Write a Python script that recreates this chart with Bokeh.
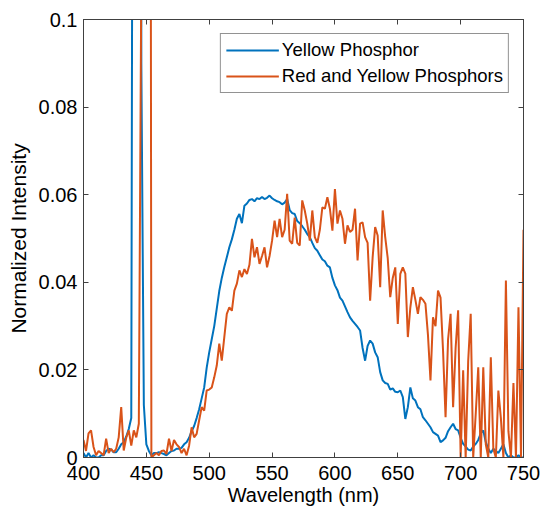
from bokeh.plotting import figure
from bokeh.models import (Range1d, FixedTicker, CustomJSTickFormatter, LinearAxis,
                          Legend, LegendItem)
from bokeh.embed import file_html
from bokeh.resources import INLINE

# wavelength grid (nm), 2 nm steps 400..750
wavelength = list(range(400, 751, 2))

yellow_phosphor = [
    0.001, 0.0, 0.001, 0.0, 0.0005, 0.0, 0.0, 0.0005, 0.0005, 0.0015,          # 400-418
    0.002, 0.0018, 0.0012, 0.0012, 0.002, 0.003, 0.0035, 0.0048, 0.0065, 0.009,  # 420-438
    0.3, 0.8, 1.0, 0.09, 0.012, 0.003, 0.0015, 0.0005, 0.001, 0.001,           # 440-458
    0.0012, 0.001, 0.0008, 0.0005, 0.001, 0.0015, 0.0016, 0.002, 0.002, 0.0022,  # 460-478
    0.003, 0.0035, 0.0045, 0.006, 0.0072, 0.009, 0.011, 0.0135, 0.016, 0.0205,  # 480-498
    0.024, 0.027, 0.030, 0.034, 0.038, 0.041, 0.0435, 0.0457, 0.048, 0.0498,    # 500-518
    0.052, 0.0545, 0.0556, 0.0535, 0.0575, 0.058, 0.0588, 0.059, 0.0585, 0.0592,  # 520-538
    0.059, 0.0595, 0.059, 0.0593, 0.0598, 0.0592, 0.0588, 0.0585, 0.0583, 0.0578,  # 540-558
    0.0582, 0.059, 0.0565, 0.0558, 0.0556, 0.054, 0.0535, 0.0528, 0.052, 0.051,  # 560-578
    0.0503, 0.049, 0.0478, 0.0472, 0.0462, 0.0452, 0.0448, 0.0438, 0.0434, 0.041,  # 580-598
    0.0393, 0.0382, 0.0365, 0.0358, 0.0345, 0.0332, 0.032, 0.0312, 0.0305, 0.0298,  # 600-618
    0.029, 0.025, 0.0221, 0.0255, 0.0267, 0.026, 0.024, 0.0229, 0.0195, 0.0176,  # 620-638
    0.017, 0.0168, 0.0155, 0.0158, 0.015, 0.0149, 0.0153, 0.0138, 0.0088, 0.0115,  # 640-658
    0.016, 0.0135, 0.013, 0.0115, 0.011, 0.0092, 0.0085, 0.0077, 0.0069, 0.0058,  # 660-678
    0.0054, 0.005, 0.0035, 0.0039, 0.0045, 0.006, 0.0069, 0.0077, 0.0065, 0.0062,  # 680-698
    0.0045, 0.0031, 0.0025, 0.0018, 0.0016, 0.0025, 0.0031, 0.004, 0.0055, 0.0062,  # 700-718
    0.0035, 0.002, 0.001, 0.002, 0.0015, 0.001, 0.002, 0.003, 0.001, 0.0,       # 720-738
    0.0005, 0.0, 0.0, 0.0005, 0.0, 0.0,                                         # 740-750
]

red_yellow_phosphors = [
    0.004, 0.0015, 0.0055, 0.0062, 0.0024, 0.0005, 0.0015, 0.001, 0.0005, 0.0043,  # 400-418
    0.001, 0.002, 0.0012, 0.002, 0.0046, 0.0115, 0.0016, 0.0045, 0.0062, 0.0027,  # 420-438
    0.0062, 0.0046, 0.0077, 0.11, 1.0, 1.0, 0.5, 0.0, 0.0005, 0.001,             # 440-458
    0.0005, 0.0015, 0.0016, 0.0008, 0.0043, 0.0015, 0.004, 0.003, 0.0024, 0.001,  # 460-478
    0.002, 0.0005, 0.0027, 0.0069, 0.0046, 0.0054, 0.0085, 0.0115, 0.0107, 0.0153,  # 480-498
    0.0155, 0.016, 0.0183, 0.021, 0.026, 0.0221, 0.0275, 0.0328, 0.0343, 0.0335,  # 500-518
    0.0381, 0.0397, 0.0427, 0.0412, 0.043, 0.0419, 0.044, 0.0499, 0.0457, 0.048,  # 520-538
    0.0442, 0.046, 0.048, 0.0434, 0.046, 0.0495, 0.0541, 0.0503, 0.0545, 0.0503,  # 540-558
    0.052, 0.0602, 0.0495, 0.0488, 0.0548, 0.049, 0.0484, 0.0587, 0.0564, 0.0534,  # 560-578
    0.0495, 0.0564, 0.0503, 0.049, 0.052, 0.0571, 0.0568, 0.0594, 0.0568, 0.0518,  # 580-598
    0.0613, 0.0534, 0.0564, 0.0545, 0.0488, 0.053, 0.0515, 0.052, 0.0568, 0.045,  # 600-618
    0.0534, 0.0537, 0.0503, 0.049, 0.0358, 0.0457, 0.0526, 0.0507, 0.0389, 0.0564,  # 620-638
    0.0503, 0.0455, 0.0366, 0.041, 0.0434, 0.0305, 0.0419, 0.0434, 0.042, 0.0275,  # 640-658
    0.0343, 0.0389, 0.036, 0.0328, 0.0366, 0.036, 0.0351, 0.028, 0.0176, 0.032,  # 660-678
    0.03, 0.0381, 0.0365, 0.0244, 0.0092, 0.027, 0.0328, 0.0115, 0.025, 0.0336,  # 680-698
    0.0, 0.0199, 0.0, 0.022, 0.0328, 0.0, 0.01, 0.0206, 0.0, 0.0206,            # 700-718
    0.003, 0.0, 0.0229, 0.002, 0.0, 0.0153, 0.009, 0.0, 0.0404, 0.006,          # 720-738
    0.0, 0.017, 0.0, 0.0343, 0.0, 0.052,                                        # 740-750
]

x_ticks = [400, 450, 500, 550, 600, 650, 700, 750]
y_ticks = [0, 0.02, 0.04, 0.06, 0.08, 0.1]

FONT = "Liberation Sans"
AXIS_COLOR = "#404040"
BLUE = "#0072BD"
ORANGE = "#D95319"

p = figure(width=542, height=512, output_backend="svg", toolbar_location=None,
           x_range=Range1d(400, 750), y_range=Range1d(0, 0.1),
           min_border_left=83, min_border_right=19, min_border_top=19,
           min_border_bottom=55)
p.background_fill_color = "white"
p.border_fill_color = "white"
p.outline_line_color = AXIS_COLOR
p.xgrid.visible = False
p.ygrid.visible = False

r1 = p.line(wavelength, yellow_phosphor, line_color=BLUE, line_width=2)
r2 = p.line(wavelength, red_yellow_phosphors, line_color=ORANGE, line_width=2)

ytick_fmt = CustomJSTickFormatter(code="return tick == 0 ? '0' : (Math.round(tick*100)/100).toString();")
blank_fmt = CustomJSTickFormatter(code="return '';")


def style_axis(ax, ticks, labels=True):
    ax.ticker = FixedTicker(ticks=ticks)
    ax.axis_line_color = AXIS_COLOR
    ax.major_tick_line_color = AXIS_COLOR
    ax.major_tick_in = 5
    ax.major_tick_out = 0
    ax.minor_tick_line_color = None
    ax.major_label_text_font = FONT
    ax.major_label_text_color = "black"
    ax.axis_label_text_font = FONT
    ax.axis_label_text_font_style = "normal"
    ax.axis_label_text_color = "black"
    if labels:
        ax.major_label_text_font_size = "20px"
        ax.axis_label_text_font_size = "21px"
    else:
        ax.formatter = blank_fmt
        ax.major_label_text_font_size = "0px"
        ax.major_label_standoff = 0


xax = p.xaxis[0]
style_axis(xax, x_ticks)
xax.axis_label = "Wavelength (nm)"
xax.axis_label_text_font_size = "20px"
xax.major_label_standoff = 8
xax.axis_label_standoff = 1

yax = p.yaxis[0]
style_axis(yax, y_ticks)
yax.formatter = ytick_fmt
yax.axis_label = "Normalized Intensity"
yax.major_label_standoff = 6
yax.axis_label_standoff = 6

top_ax = LinearAxis()
style_axis(top_ax, x_ticks, labels=False)
p.add_layout(top_ax, "above")
right_ax = LinearAxis()
style_axis(right_ax, y_ticks, labels=False)
p.add_layout(right_ax, "right")

legend = Legend(items=[LegendItem(label="Yellow Phosphor", renderers=[r1]),
                       LegendItem(label="Red and Yellow Phosphors", renderers=[r2])],
                location="top_right", margin=14)
legend.label_text_font = FONT
legend.label_text_font_size = "18.5px"
legend.label_text_color = "black"
legend.glyph_width = 53
legend.glyph_height = 20
legend.label_height = 20
legend.label_standoff = 3
legend.spacing = 4
legend.padding = 5
legend.border_line_color = "#262626"
legend.border_line_width = 1
legend.background_fill_color = "white"
legend.background_fill_alpha = 1.0
p.add_layout(legend, "center")

open("out.html", "w").write(file_html(p, INLINE))
